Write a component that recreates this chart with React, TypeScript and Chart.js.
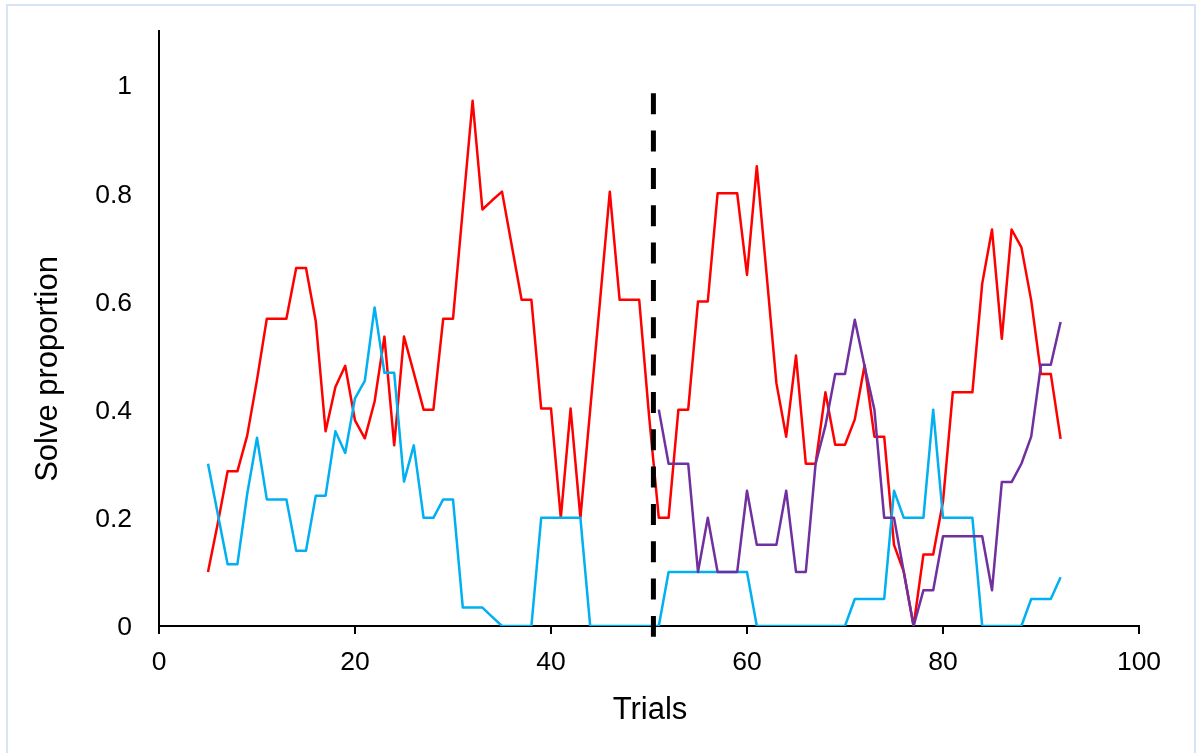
import React, { useEffect, useRef } from 'react';
import { Chart, registerables } from 'chart.js';

Chart.register(...registerables);

const trials = [
  5, 6, 7, 8, 9, 10, 11, 12, 13, 14, 15, 16, 17, 18, 19, 20, 21, 22, 23, 24, 25, 26, 27, 28,
  29, 30, 31, 32, 33, 34, 35, 36, 37, 38, 39, 40, 41, 42, 43, 44, 45, 46, 47, 48, 49, 50,
  51, 52, 53, 54, 55, 56, 57, 58, 59, 60, 61, 62, 63, 64, 65, 66, 67, 68, 69, 70, 71, 72,
  73, 74, 75, 76, 77, 78, 79, 80, 81, 82, 83, 84, 85, 86, 87, 88, 89, 90, 91, 92,
];

const redValues = [
  0.10, 0.19, 0.286, 0.286, 0.352, 0.455, 0.568, 0.568, 0.568, 0.662, 0.662, 0.563, 0.36, 0.442,
  0.481, 0.38, 0.347, 0.415, 0.535, 0.334, 0.535, 0.468, 0.40, 0.40, 0.568, 0.568, 0.77, 0.971,
  0.77, 0.787, 0.803, 0.703, 0.603, 0.603, 0.402, 0.402, 0.20, 0.402, 0.20, 0.40, 0.60, 0.803,
  0.603, 0.603, 0.603, 0.39, 0.20, 0.20, 0.40, 0.40, 0.60, 0.60, 0.80, 0.80, 0.80, 0.649, 0.85,
  0.65, 0.449, 0.35, 0.50, 0.30, 0.30, 0.432, 0.335, 0.335, 0.382, 0.482, 0.35, 0.35, 0.15, 0.10,
  0, 0.132, 0.132, 0.23, 0.432, 0.432, 0.432, 0.633, 0.733, 0.531, 0.733, 0.70, 0.602, 0.466,
  0.466, 0.346,
];

const blueValues = [
  0.30, 0.207, 0.114, 0.114, 0.244, 0.348, 0.234, 0.234, 0.234, 0.139, 0.139, 0.241, 0.241, 0.36,
  0.32, 0.421, 0.453, 0.589, 0.468, 0.468, 0.267, 0.334, 0.20, 0.20, 0.234, 0.234, 0.034, 0.034,
  0.034, 0.017, 0, 0, 0, 0, 0.2, 0.2, 0.2, 0.2, 0.2, 0, 0, 0, 0, 0, 0, 0, 0, 0.1, 0.1, 0.1, 0.1,
  0.1, 0.1, 0.1, 0.1, 0.1, 0, 0, 0, 0, 0, 0, 0, 0, 0, 0, 0.05, 0.05, 0.05, 0.05, 0.25, 0.2, 0.2,
  0.2, 0.4, 0.2, 0.2, 0.2, 0.2, 0, 0, 0, 0, 0, 0.05, 0.05, 0.05, 0.09,
];

const purpleStart = 51;
const purpleValues = [
  0.40, 0.30, 0.30, 0.30, 0.10, 0.20, 0.10, 0.10, 0.10, 0.25, 0.15, 0.15, 0.15, 0.25, 0.10, 0.10,
  0.30, 0.37, 0.466, 0.466, 0.566, 0.48, 0.40, 0.20, 0.20, 0.10, 0, 0.066, 0.066, 0.166, 0.166,
  0.166, 0.166, 0.166, 0.066, 0.266, 0.266, 0.30, 0.35, 0.483, 0.483, 0.562,
];

const xTicks = [0, 20, 40, 60, 80, 100];
const yTicks = [0, 0.2, 0.4, 0.6, 0.8, 1];
const dividerTrial = 50.45;
const dividerRange = [0.985, -0.02];

const FONT = '"Liberation Sans", Arial, sans-serif';

export default function App() {
  const ref = useRef<HTMLCanvasElement>(null);

  useEffect(() => {
    const canvas = ref.current;
    if (!canvas) return;
    const toPts = (xs: number[], ys: number[]) => xs.map((x, i) => ({ x, y: ys[i] }));
    const purpleTrials = trials.filter((t) => t >= purpleStart);

    const titlePlugin = {
      id: 'axisTitles',
      afterDraw(chart: any) {
        const ctx = chart.ctx;
        ctx.save();
        ctx.fillStyle = '#000';
        ctx.font = `31px ${FONT}`;
        ctx.textAlign = 'center';
        ctx.textBaseline = 'alphabetic';
        ctx.fillText('Trials', 650, 719);
        ctx.translate(57, 369);
        ctx.rotate(-Math.PI / 2);
        ctx.fillText('Solve proportion', 0, 0);
        ctx.restore();
      },
    };

    const chart = new Chart(canvas, {
      type: 'line',
      data: {
        datasets: [
          {
            label: 'Divider',
            data: [
              { x: dividerTrial, y: dividerRange[0] },
              { x: dividerTrial, y: dividerRange[1] },
            ],
            borderColor: '#000',
            borderWidth: 5,
            borderDash: [21, 16.34],
            borderCapStyle: 'butt',
            clip: false as any,
            order: 0,
          },
          {
            label: 'Purple',
            data: toPts(purpleTrials, purpleValues),
            borderColor: '#7030A0',
            borderWidth: 2.5,
            order: 1,
          },
          {
            label: 'Blue',
            data: toPts(trials, blueValues),
            borderColor: '#00B0F0',
            borderWidth: 2.5,
            order: 2,
          },
          {
            label: 'Red',
            data: toPts(trials, redValues),
            borderColor: '#FF0000',
            borderWidth: 2.5,
            order: 3,
          },
        ] as any,
      },
      options: {
        responsive: false,
        animation: false,
        layout: { padding: { left: 0, top: 31, right: 63, bottom: 0 } },
        plugins: { legend: { display: false }, tooltip: { enabled: false } },
        elements: {
          point: { radius: 0 },
          line: { tension: 0, borderJoinStyle: 'round', fill: false },
        },
        scales: {
          x: {
            type: 'linear',
            min: 0,
            max: 100,
            afterFit: (s: any) => {
              s.height = 127;
            },
            afterBuildTicks: (s: any) => {
              s.ticks = xTicks.map((v) => ({ value: v }));
            },
            grid: {
              display: true,
              drawOnChartArea: false,
              drawTicks: true,
              tickLength: 8,
              color: '#000',
              lineWidth: 2,
            },
            border: { display: true, color: '#000', width: 2 },
            ticks: {
              padding: 13,
              font: { family: FONT, size: 26.5 },
              color: '#000',
              maxRotation: 0,
              autoSkip: false,
              callback: (v: any) => String(v),
            },
          },
          y: {
            type: 'linear',
            min: 0,
            max: 1.1,
            afterFit: (s: any) => {
              s.width = 159;
              s.paddingTop = 0;
              s.paddingBottom = 0;
            },
            afterBuildTicks: (s: any) => {
              s.ticks = yTicks.map((v) => ({ value: v }));
            },
            grid: { display: false, drawTicks: false },
            border: { display: true, color: '#000', width: 2 },
            ticks: {
              padding: 27,
              labelOffset: 2,
              font: { family: FONT, size: 26.5 },
              color: '#000',
              callback: (v: any) => String(Math.round(Number(v) * 10) / 10),
            },
          },
        },
      } as any,
      plugins: [titlePlugin],
    });

    return () => chart.destroy();
  }, []);

  return (
    <div
      style={{
        position: 'fixed',
        left: 0,
        top: 0,
        width: 1202,
        height: 753,
        overflow: 'hidden',
        background: '#fff',
      }}
    >
      <div
        style={{
          position: 'absolute',
          left: 6,
          top: 4,
          width: 1190,
          height: 760,
          boxSizing: 'border-box',
          border: '2px solid #D6E4F5',
        }}
      />
      <canvas
        ref={ref}
        width={1202}
        height={753}
        style={{ position: 'absolute', left: 0, top: 0, width: 1202, height: 753 }}
      />
    </div>
  );
}
